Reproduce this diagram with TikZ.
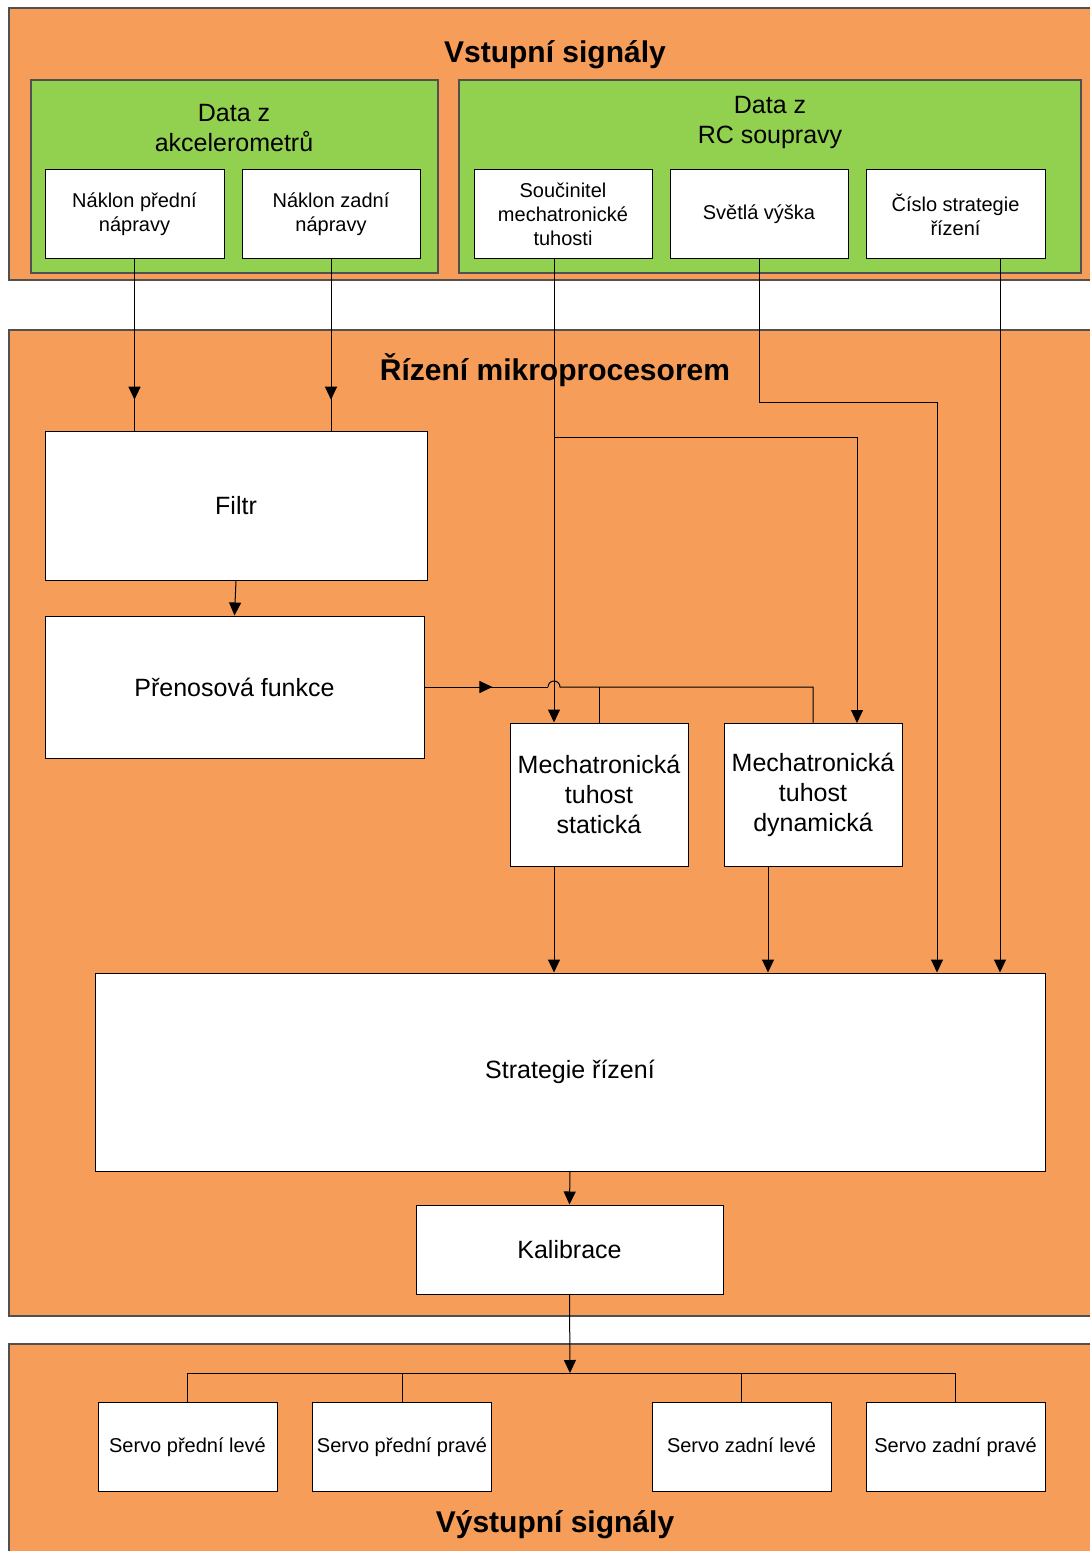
\documentclass[tikz,border=0pt]{standalone}
\usepackage{fontspec}
\setmainfont{Liberation Sans}
\usetikzlibrary{arrows.meta,decorations.markings}
\definecolor{oranzova}{RGB}{245,157,89}
\definecolor{zelena}{RGB}{146,208,80}
\definecolor{okraj}{RGB}{80,80,80}
\tikzset{
  panel/.style={draw=okraj, line width=1pt, fill=oranzova},
  skupina/.style={draw=okraj, line width=0.6pt, fill=zelena},
  rozmer/.style 2 args={minimum width=#1*0.5pt, minimum height=#2*0.5pt},
  blok/.style={draw, fill=white, align=center, inner sep=1pt, line width=0.5pt},
  malyblok/.style={blok, font=\fontsize{10}{12}\selectfont},
  velkyblok/.style={blok, font=\fontsize{12.5}{15}\selectfont},
  nadpis/.style={font=\bfseries\fontsize{15}{18}\selectfont},
  popis/.style={align=center, font=\fontsize{12.5}{15}\selectfont},
  spoj/.style={line width=0.5pt},
  sipka/.style={spoj, -{Triangle[length=6.5pt,width=6pt]}},
  sipkastred/.style={spoj, postaction={decorate},
    decoration={markings, mark=at position #1 with {\arrow{Triangle[length=6.5pt,width=6pt]}}}}
}
\begin{document}
\begin{tikzpicture}[x=0.5pt, y=-0.5pt]
  \useasboundingbox[fill=white] (0,0) rectangle (1089,1551);

  % panely
  \draw[panel] (9,8) rectangle (1096,280);
  \draw[panel] (9,330) rectangle (1096,1316);
  \draw[panel] (9,1344) rectangle (1096,1560);
  \node[nadpis] (tVstup) at (555,55) {Vstupní signály};
  \node[nadpis] (tRizeni) at (555,370) {Řízení mikroprocesorem};
  \node[nadpis] (tVystup) at (555,1525) {Výstupní signály};

  % vstupy
  \draw[skupina] (31,80) rectangle (438,273);
  \draw[skupina] (459,80) rectangle (1081,273);
  \node[popis] (tAkcel) at (234,128) {Data z\\akcelerometrů};
  \node[popis] (tRC) at (770,122) {Data z\\RC soupravy};
  \node[malyblok, rozmer={179}{89}] (nakP) at (134.5,214.5) {Náklon přední\\nápravy};
  \node[malyblok, rozmer={178}{89}] (nakZ) at (331,214.5) {Náklon zadní\\nápravy};
  \node[malyblok, rozmer={178}{89}] (soucin) at (563,214.5) {Součinitel\\mechatronické\\tuhosti};
  \node[malyblok, rozmer={178}{89}] (vyska) at (759,214.5) {Světlá výška};
  \node[malyblok, rozmer={179}{89}] (cislo) at (955.5,214.5) {Číslo strategie\\řízení};

  % rizeni
  \node[velkyblok, rozmer={382}{149}] (filtr) at (236,505.5) {Filtr};
  \node[velkyblok, rozmer={379}{142}] (prenos) at (234.5,687) {Přenosová funkce};
  \node[velkyblok, rozmer={178}{143}] (mechS) at (599,794.5) {Mechatronická\\tuhost\\statická};
  \node[velkyblok, rozmer={178}{143}] (mechD) at (813,794.5) {Mechatronická\\tuhost\\dynamická};
  \node[velkyblok, rozmer={950}{198}] (strat) at (570,1072) {Strategie řízení};
  \node[velkyblok, rozmer={307}{89}] (kalib) at (569.5,1249.5) {Kalibrace};

  % vystupy
  \foreach \jm/\x/\txt in {servoPL/187.5/Servo přední levé, servoPP/402/Servo přední pravé,
                           servoZL/741.5/Servo zadní levé, servoZP/955.5/Servo zadní pravé}
    \node[malyblok, rozmer={179}{89}, text height=8pt, text depth=2pt] (\jm) at (\x,1446.5) {\txt};

  % body spoju
  \coordinate (soucOut) at (554,259);
  \coordinate (soucRozd) at (554,437);
  \coordinate (vyskaLom) at (937,402);
  \coordinate (cisloOut) at (1000,259);
  \coordinate (mechSOut) at (554,866);
  \coordinate (mechDOut) at (768,866);
  \coordinate (mechDIn) at (857,723);
  \coordinate (hopL) at (548,687);
  \coordinate (sbernice) at (570,1373);

  % spoje
  \draw[sipkastred=0.82] (nakP.south) -- (nakP.south |- filtr.north);
  \draw[sipkastred=0.82] (nakZ.south) -- (nakZ.south |- filtr.north);
  \draw[sipka] (filtr.south) -- (prenos.north);
  \draw[sipkastred=0.55] (prenos.east) -- (hopL);
  \draw[spoj] (hopL) arc[start angle=180, end angle=0, radius=3pt]
    -- (mechD.north |- prenos.east) -- (mechD.north);
  \draw[spoj] (mechS.north |- prenos.east) -- (mechS.north);
  \draw[sipka] (soucOut) -- (soucOut |- mechS.north);
  \draw[sipka] (soucRozd) -| (mechDIn);
  \draw[sipka] (vyska.south) |- (vyskaLom) -- (vyskaLom |- strat.north);
  \draw[sipka] (cisloOut) -- (cisloOut |- strat.north);
  \draw[sipka] (mechSOut) -- (mechSOut |- strat.north);
  \draw[sipka] (mechDOut) -- (mechDOut |- strat.north);
  \draw[sipka] (strat.south) -- (kalib.north);
  \draw[sipka] (kalib.south) -- (sbernice);
  \draw[spoj] (servoPL.north) |- (sbernice) -| (servoZP.north);
  \draw[spoj] (servoPP.north) -- (servoPP.north |- sbernice);
  \draw[spoj] (servoZL.north) -- (servoZL.north |- sbernice);
\end{tikzpicture}
\end{document}
